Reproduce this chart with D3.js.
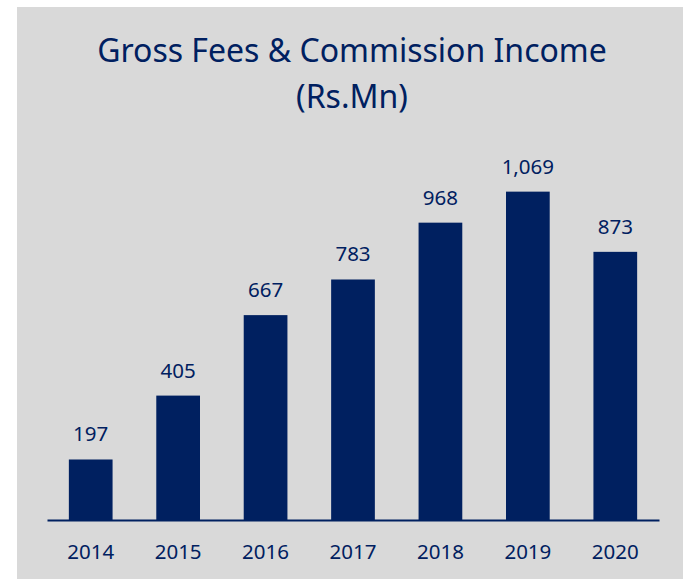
<!DOCTYPE html>
<html>
<head>
<meta charset="utf-8">
<script src="https://cdn.jsdelivr.net/npm/d3@7"></script>
<style>
  body { margin: 0; background: #fff; }
  svg { display: block; }
  text { font-family: "Noto Sans", sans-serif; fill: #002060; }
</style>
</head>
<body>
<svg id="chart"></svg>
<script>
const years = ["2014", "2015", "2016", "2017", "2018", "2019", "2020"];
const income = [197, 405, 667, 783, 968, 1069, 873];
const titleLines = ["Gross Fees & Commission Income", "(Rs.Mn)"];

const width = 683;
const height = 579;
const navy = "#002060";

const svg = d3.select("#chart").attr("width", width).attr("height", height);

// gray panel
svg.append("rect")
  .attr("x", 17).attr("y", 7)
  .attr("width", width - 17).attr("height", height - 7)
  .attr("fill", "#d9d9d9");

// title
svg.append("g")
  .selectAll("text")
  .data(titleLines)
  .enter()
  .append("text")
  .attr("x", 352)
  .attr("y", (d, i) => 62 + i * 46)
  .attr("text-anchor", "middle")
  .style("font-size", "32px")
  .text(d => d);

const x = d3.scaleBand()
  .domain(years)
  .range([47, 659])
  .paddingInner(0.5)
  .paddingOuter(0.25);

const y = d3.scaleLinear()
  .domain([0, 1200])
  .range([520, 151.4]);

const chart = svg.append("g");

chart.selectAll(".bar")
  .data(years)
  .enter()
  .append("rect")
  .attr("class", "bar")
  .attr("x", d => x(d))
  .attr("y", (d, i) => y(income[i]))
  .attr("width", x.bandwidth())
  .attr("height", (d, i) => y(0) - y(income[i]))
  .attr("fill", navy);

// value labels
chart.selectAll(".val")
  .data(years)
  .enter()
  .append("text")
  .attr("class", "val")
  .attr("x", d => x(d) + x.bandwidth() / 2)
  .attr("y", (d, i) => y(income[i]) - 18)
  .attr("text-anchor", "middle")
  .style("font-size", "20.5px")
  .text((d, i) => d3.format(",")(income[i]));

// x axis
const xAxis = chart.append("g")
  .attr("transform", `translate(0,${y(0)})`)
  .call(d3.axisBottom(x).tickSize(0).tickPadding(24));

xAxis.select(".domain").attr("stroke", navy).attr("stroke-width", 2);
xAxis.selectAll("text")
  .style("font-size", "20.5px")
  .style("font-family", "'Noto Sans', sans-serif")
  .attr("fill", navy);
</script>
</body>
</html>
